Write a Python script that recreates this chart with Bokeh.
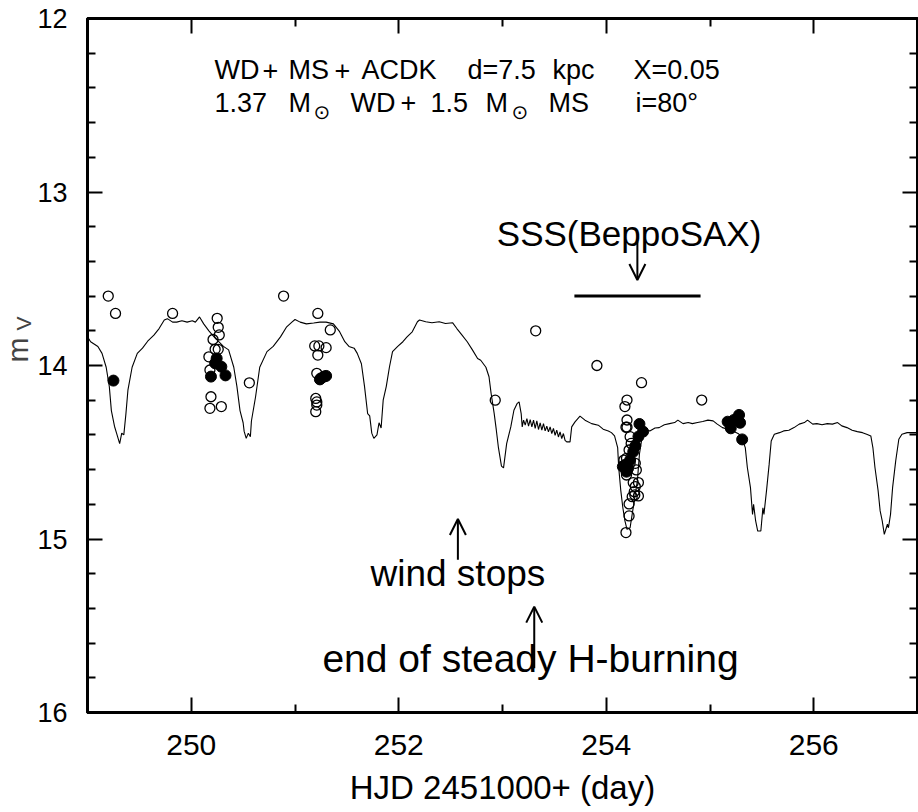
from bokeh.plotting import figure
from bokeh.models import Range1d, FixedTicker, LinearAxis, Label, Arrow, OpenHead, Title
from bokeh.embed import file_html
from bokeh.resources import INLINE
from bokeh.core.properties import value

# ---- model light curve (WD + MS + ACDK) ----
model_x = [249.00, 249.03, 249.10, 249.14, 249.18, 249.21, 249.23, 249.26, 249.28, 249.29, 249.31, 249.33, 249.35,
           249.37, 249.39, 249.43, 249.48, 249.53, 249.58, 249.64, 249.69, 249.74, 249.77, 249.82, 249.86, 249.91,
           249.96, 250.01, 250.04, 250.08, 250.12, 250.17, 250.22, 250.26, 250.31, 250.36, 250.41, 250.44, 250.47,
           250.50, 250.51, 250.53, 250.55, 250.57, 250.58, 250.62, 250.66, 250.73, 250.79, 250.86, 250.92, 250.97,
           251.00, 251.05, 251.11, 251.18, 251.24, 251.30, 251.37, 251.43,
           251.48, 251.52, 251.57, 251.60, 251.64, 251.67, 251.70, 251.72, 251.74, 251.76, 251.79, 251.81, 251.83,
           251.85, 251.88, 251.91, 251.94, 251.99, 252.04, 252.08, 252.13, 252.18, 252.20, 252.26, 252.32, 252.39,
           252.45, 252.52, 252.56, 252.61, 252.66, 252.71, 252.76, 252.79, 252.84, 252.87, 252.89, 252.92, 252.94,
           252.96, 252.99, 253.01, 253.04, 253.08, 253.11, 253.14, 253.16, 253.18, 253.19,
           253.203, 253.219, 253.235, 253.251, 253.267, 253.283, 253.299, 253.315, 253.331, 253.347, 253.363,
           253.379, 253.395, 253.411, 253.427, 253.443, 253.459, 253.475, 253.491, 253.507, 253.523, 253.539,
           253.555, 253.571, 253.587, 253.603, 253.619, 253.651, 253.667, 253.699, 253.747, 253.795, 253.859,
           253.923, 253.97, 254.02, 254.05, 254.08, 254.11, 254.12, 254.14, 254.16, 254.18, 254.20, 254.23, 254.24,
           254.27, 254.30, 254.32, 254.35, 254.37, 254.42, 254.47, 254.51, 254.56, 254.61, 254.66, 254.69, 254.74,
           254.79, 254.83, 254.88, 254.93, 254.98, 255.03, 255.07, 255.12, 255.17, 255.22, 255.27, 255.30, 255.34,
           255.36, 255.39, 255.41, 255.42, 255.44, 255.46, 255.49, 255.51, 255.52, 255.545, 255.57, 255.59, 255.62,
           255.67, 255.71, 255.76, 255.81, 255.86, 255.91, 255.94, 255.99, 256.03, 256.08, 256.13, 256.18, 256.23,
           256.27, 256.32, 256.37, 256.42, 256.47, 256.51, 256.55, 256.57, 256.59, 256.62, 256.64, 256.66, 256.68,
           256.71, 256.72, 256.74, 256.76, 256.79, 256.82, 256.85, 256.90, 257.00]
model_y = [13.835, 13.863, 13.89, 13.93, 14.01, 14.12, 14.26, 14.35, 14.39, 14.41, 14.45, 14.39, 14.40,
           14.28, 14.14, 14.01, 13.93, 13.90, 13.86, 13.825, 13.787, 13.738, 13.73, 13.75, 13.75, 13.742,
           13.75, 13.742, 13.75, 13.72, 13.76, 13.80, 13.835, 13.86, 13.89, 13.91, 14.01, 14.12, 14.26,
           14.33, 14.38, 14.42, 14.39, 14.41, 14.32, 14.18, 14.01, 13.92, 13.89, 13.835, 13.777, 13.75,
           13.735, 13.75, 13.76, 13.755, 13.75, 13.75, 13.76, 13.805,
           13.863, 13.89, 13.90, 13.93, 13.99, 14.12, 14.277, 14.29, 14.39, 14.42, 14.40, 14.33, 14.36,
           14.20, 14.12, 14.01, 13.92, 13.89, 13.863, 13.835, 13.806, 13.748, 13.738, 13.748, 13.754, 13.748,
           13.758, 13.754, 13.787, 13.825, 13.863, 13.91, 13.96, 13.97, 14.01, 14.065, 14.16, 14.277, 14.37,
           14.47, 14.58, 14.59, 14.45, 14.354, 14.258, 14.22, 14.21, 14.277, 14.354,
           14.315, 14.344, 14.306, 14.35, 14.312, 14.354, 14.315, 14.363, 14.319, 14.369, 14.331,
           14.373, 14.335, 14.377, 14.35, 14.383, 14.354, 14.392, 14.363, 14.402, 14.373, 14.412,
           14.383, 14.421, 14.392, 14.431, 14.44, 14.44, 14.354, 14.325, 14.292, 14.315, 14.335,
           14.344, 14.367, 14.377, 14.387, 14.406, 14.473, 14.588, 14.72, 14.82, 14.896, 14.944, 14.935, 14.896,
           14.78, 14.665, 14.51, 14.396, 14.373, 14.377, 14.36, 14.358, 14.342, 14.335, 14.329, 14.315, 14.335,
           14.329, 14.335, 14.329, 14.323, 14.315, 14.319, 14.338, 14.358, 14.367, 14.377, 14.392, 14.406, 14.473,
           14.588, 14.704, 14.858, 14.80, 14.896, 14.954, 14.954, 14.82, 14.858, 14.72, 14.57, 14.435, 14.396,
           14.387, 14.377, 14.373, 14.358, 14.338, 14.329, 14.315, 14.338, 14.335, 14.342, 14.335, 14.338, 14.329,
           14.348, 14.358, 14.373, 14.381, 14.387, 14.396, 14.406, 14.473, 14.588, 14.72, 14.838, 14.896, 14.973,
           14.915, 14.935, 14.858, 14.704, 14.55, 14.425, 14.396, 14.387, 14.387]

# ---- observations ----
open_x = [249.20, 249.27, 249.82, 250.25, 250.26, 250.27, 250.21, 250.23, 250.26, 250.17, 250.18, 250.19, 250.18,
          250.29, 250.56, 250.89, 251.22, 251.34, 251.19, 251.23, 251.30, 251.22, 251.21, 251.20, 251.21, 251.21,
          251.20, 252.93, 253.32, 253.91, 254.34, 254.20, 254.18, 254.20, 254.19, 254.20, 254.92,
          254.23, 254.24, 254.22, 254.195, 254.17, 254.23, 254.28, 254.29, 254.195, 254.26, 254.31, 254.28,
          254.27, 254.275, 254.31, 254.25, 254.22, 254.22, 254.19]
open_y = [13.60, 13.70, 13.70, 13.728, 13.78, 13.824, 13.85, 13.907, 13.907, 13.95, 14.026, 14.18, 14.247,
          14.237, 14.10, 13.60, 13.70, 13.795, 13.887, 13.887, 13.897, 13.94, 14.045, 14.19, 14.21, 14.228,
          14.266, 14.20, 13.80, 14.00, 14.099, 14.199, 14.237, 14.314, 14.356, 14.356, 14.199,
          14.41, 14.449, 14.487, 14.535, 14.545, 14.564, 14.564, 14.602, 14.631, 14.675, 14.675, 14.698,
          14.727, 14.746, 14.752, 14.756, 14.798, 14.867, 14.963]
filled_x = [249.25, 250.245, 250.23, 250.29, 250.19, 250.33, 251.25, 251.30, 251.28, 251.24,
            254.32, 254.355, 254.31, 254.28, 254.26, 254.23, 254.18, 254.21, 254.195, 254.16,
            255.17, 255.23, 255.28, 255.29, 255.20, 255.31]
filled_y = [14.087, 13.959, 13.987, 14.007, 14.064, 14.057, 14.074, 14.06, 14.064, 14.08,
            14.337, 14.381, 14.41, 14.464, 14.497, 14.545, 14.573, 14.593, 14.612, 14.583,
            14.324, 14.314, 14.285, 14.33, 14.362, 14.426]

# ---- axes ----
x_major = [250, 252, 254, 256]
x_minor = [249, 251, 253, 255, 257]
y_major = [12, 13, 14, 15, 16]
y_minor = [12.2, 12.4, 12.6, 12.8, 13.2, 13.4, 13.6, 13.8, 14.2, 14.4, 14.6, 14.8,
           15.2, 15.4, 15.6, 15.8]
x_label = "HJD 2451000+ (day)"
y_label_main, y_label_sub = "m", "V"

# ---- annotations ----
head1_tokens = ["WD", "+", "MS", "+", "ACDK", "d=7.5", "kpc", "X=0.05"]
head1_x = [250.224, 250.687, 250.937, 251.381, 251.641, 252.663, 253.482, 254.263]
head1_y = 12.298
head2_tokens = ["1.37", "M", "WD", "+", "1.5", "M", "MS", "i=80°"]
head2_x = [250.224, 250.937, 251.535, 252.017, 252.306, 252.836, 253.443, 254.282]
head2_y = 12.485
sun_x = [251.179, 253.087]

sss_text, sss_tx, sss_ty = "SSS(BeppoSAX)", 254.22, 13.238
sss_arrow_x, sss_arrow_y0, sss_arrow_y1 = 254.30, 13.286, 13.507
sss_span_x0, sss_span_x1, sss_span_y = 253.693, 254.909, 13.599
wind_text, wind_tx, wind_ty = "wind stops", 252.57, 15.20
wind_arrow_x, wind_arrow_y0, wind_arrow_y1 = 252.57, 15.12, 14.885
hb_text, hb_tx, hb_ty = "end of steady H-burning", 253.27, 15.69
hb_arrow_x, hb_arrow_y0, hb_arrow_y1 = 253.306, 15.745, 15.39

FONT = "Liberation Sans"

p = figure(width=918, height=810, x_range=Range1d(249, 257), y_range=Range1d(16, 12),
           output_backend="svg", toolbar_location=None,
           min_border_left=87, min_border_right=1, min_border_top=18, min_border_bottom=98,
           background_fill_color="white", border_fill_color="white")
p.xgrid.grid_line_color = None
p.ygrid.grid_line_color = None
p.outline_line_color = "black"
p.outline_line_width = 3

xt = FixedTicker(ticks=x_major, minor_ticks=x_minor)
yt = FixedTicker(ticks=y_major, minor_ticks=y_minor)


def style_axis(ax):
    ax.axis_line_width = 3
    ax.axis_line_color = "black"
    ax.major_tick_in = 15
    ax.major_tick_out = 0
    ax.minor_tick_in = 8
    ax.minor_tick_out = 0
    ax.major_tick_line_width = 2
    ax.minor_tick_line_width = 2
    ax.major_tick_line_color = "black"
    ax.minor_tick_line_color = "black"
    ax.major_label_text_font = FONT
    ax.major_label_text_color = "black"


p.xaxis.ticker = xt
p.yaxis.ticker = yt
style_axis(p.xaxis[0])
style_axis(p.yaxis[0])
p.xaxis.major_label_text_font_size = "30px"
p.yaxis.major_label_text_font_size = "27px"
p.xaxis.major_label_standoff = 22
p.yaxis.major_label_standoff = 20
p.xaxis.axis_label = x_label
p.xaxis.axis_label_text_font = FONT
p.xaxis.axis_label_text_font_size = "33px"
p.xaxis.axis_label_text_font_style = "normal"
p.xaxis.axis_label_text_color = "black"
p.xaxis.axis_label_standoff = 11

top = LinearAxis(ticker=xt, major_label_overrides={t: "" for t in x_major}, major_label_standoff=0)
style_axis(top)
p.add_layout(top, "above")
right = LinearAxis(ticker=yt, major_label_overrides={t: "" for t in y_major}, major_label_standoff=0)
style_axis(right)
p.add_layout(right, "right")

# y-axis label m_V as two titles on the left side
p.add_layout(Title(text=y_label_sub, text_font=FONT, text_font_size="21px", text_font_style="normal",
                   align="left", offset=382, standoff=-1, vertical_align="bottom"), "left")
p.add_layout(Title(text=y_label_main, text_font=FONT, text_font_size="30px", text_font_style="normal",
                   align="left", offset=350, standoff=-47, vertical_align="bottom"), "left")

# model curve
p.line(model_x, model_y, line_color="black", line_width=1.1)
# observations
p.scatter(open_x, open_y, size=10, marker="circle", fill_color=None, line_color="black", line_width=1.3)
p.scatter(filled_x, filled_y, size=11, marker="circle", fill_color="black", line_color="black", line_width=1)

# header text
p.text(head1_x, [head1_y] * len(head1_x), text=head1_tokens, text_font=value(FONT),
       text_font_size="27px", text_baseline="alphabetic", text_align="left", text_color="black")
p.text(head2_x, [head2_y] * len(head2_x), text=head2_tokens, text_font=value(FONT),
       text_font_size="27px", text_baseline="alphabetic", text_align="left", text_color="black")
p.text(sun_x, [head2_y] * len(sun_x), text=["⊙"] * len(sun_x), text_font=value("DejaVu Sans"),
       text_font_size="20px", text_baseline="alphabetic", text_align="left", text_color="black", y_offset=9)

# annotations
for t, tx, ty, fs in [(sss_text, sss_tx, sss_ty, "35px"), (wind_text, wind_tx, wind_ty, "37px"),
                      (hb_text, hb_tx, hb_ty, "39px")]:
    p.add_layout(Label(x=tx, y=ty, text=t, text_font=FONT, text_font_size=fs,
                       text_align="center", text_baseline="alphabetic", text_color="black"))

for ax_, y0, y1 in [(sss_arrow_x, sss_arrow_y0, sss_arrow_y1), (wind_arrow_x, wind_arrow_y0, wind_arrow_y1),
                    (hb_arrow_x, hb_arrow_y0, hb_arrow_y1)]:
    p.add_layout(Arrow(end=OpenHead(size=16, line_width=2), x_start=ax_, y_start=y0,
                       x_end=ax_, y_end=y1, line_width=2))
p.segment(x0=[sss_span_x0], y0=[sss_span_y], x1=[sss_span_x1], y1=[sss_span_y], line_color="black", line_width=3)

open("out.html", "w").write(file_html(p, INLINE))
